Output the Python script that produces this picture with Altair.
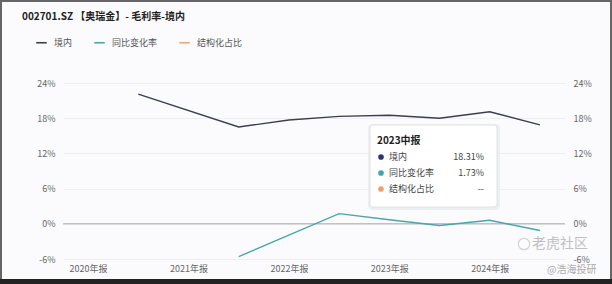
import altair as alt
import pandas as pd

FONT = "Noto Sans CJK SC"

periods = ["2020年报", "2021中报", "2021年报", "2022中报", "2022年报",
           "2023中报", "2023年报", "2024中报", "2024年报", "2025中报"]
domestic = [None, 22.1, None, 16.5, 17.7, 18.31, 18.5, 18.0, 19.1, 16.85]
yoy = [None, None, None, -5.6, None, 1.73, 0.7, -0.3, 0.6, -1.15]
structure = [None] * 10
series_names = ["境内", "同比变化率", "结构化占比"]
series_colors = ["#3b3e4e", "#4aa3ad", "#f2a46a"]
dot_colors = ["#2e3470", "#3fa6b4", "#eda06e"]
y_ticks = [-6, 0, 6, 12, 18, 24]
x_label_periods = ["2020年报", "2021年报", "2022年报", "2023年报", "2024年报"]
hover_period = "2023中报"
title_text = "002701.SZ 【奥瑞金】- 毛利率-境内"

rows = []
for name, vals in zip(series_names, [domestic, yoy, structure]):
    for p, v in zip(periods, vals):
        if v is not None:
            rows.append({"period": p, "series": name, "value": v})
df = pd.DataFrame(rows)

hi = periods.index(hover_period)
hover_vals = []
for vals in [domestic, yoy, structure]:
    v = vals[hi]
    hover_vals.append("--" if v is None else f"{v:.2f}%")

yscale = alt.Scale(domain=[-6, 24], nice=False, zero=False)

x_enc = alt.X("period:N", sort=periods, scale=alt.Scale(domain=periods),
              axis=alt.Axis(values=x_label_periods, title=None, labelAngle=0,
                            domain=False, ticks=False, grid=False, labelFontSize=9,
                            labelColor="#666", labelPadding=5, labelFont=FONT))

color_enc = alt.Color("series:N", scale=alt.Scale(domain=series_names, range=series_colors),
                      legend=alt.Legend(title=None, orient="none", legendX=-28, legendY=-47,
                                        direction="horizontal", symbolType="stroke",
                                        symbolStrokeWidth=1.6, symbolSize=110,
                                        labelFontSize=9, labelColor="#555", labelFont=FONT,
                                        columnPadding=18, labelOffset=6))

left_axis = alt.Axis(values=y_ticks, labelExpr="datum.value + '%'", grid=True,
                     gridColor="#efefef", domain=False, ticks=False, title=None,
                     labelPadding=8, labelFontSize=9, labelColor="#666", labelFont=FONT)
right_axis = alt.Axis(orient="right", values=y_ticks, labelExpr="datum.value + '%'",
                      grid=False, domain=False, ticks=False, title=None,
                      labelPadding=8, labelFontSize=9, labelColor="#666", labelFont=FONT)

base = alt.Chart(df)

zero_rule = alt.Chart(pd.DataFrame({"value": [0]})).mark_rule(
    color="#a8a8a8", strokeWidth=1).encode(y=alt.Y("value:Q", scale=yscale, axis=left_axis))

left_line = base.transform_filter(alt.datum.series == "境内").mark_line(
    strokeWidth=1.4).encode(x=x_enc, y=alt.Y("value:Q", scale=yscale, axis=left_axis),
                            color=color_enc)

right_line = base.transform_filter(alt.datum.series != "境内").mark_line(
    strokeWidth=1.4).encode(x=x_enc, y=alt.Y("value:Q", scale=yscale, axis=right_axis),
                            color=color_enc)

left_group = alt.layer(zero_rule, left_line)


def one(col, val):
    return alt.Chart(pd.DataFrame({col: [val]}))


# hover tooltip box
tip_layers = [
    one("a", 0).mark_rect(fill="#e9ecf0", cornerRadius=4, opacity=0.8).encode(
        x=alt.value(305), x2=alt.value(437), y=alt.value(41), y2=alt.value(127)),
    one("a", 0).mark_rect(fill="white", stroke="#e2e2e2", strokeWidth=1, cornerRadius=3).encode(
        x=alt.value(307), x2=alt.value(434), y=alt.value(42), y2=alt.value(124)),
    one("t", hover_period).mark_text(
        align="left", baseline="middle", fontSize=10, fontWeight="bold", color="#222",
        font=FONT).encode(text="t:N", x=alt.value(314), y=alt.value(58)),
]
row_ys = [74, 90, 106]
for name, val, dc, ry in zip(series_names, hover_vals, dot_colors, row_ys):
    tip_layers.append(one("a", 0).mark_circle(size=32, opacity=1, color=dc).encode(
        x=alt.value(318), y=alt.value(ry)))
    tip_layers.append(one("t", name).mark_text(
        align="left", baseline="middle", fontSize=9, color="#444", font=FONT).encode(
        text="t:N", x=alt.value(326), y=alt.value(ry)))
    tip_layers.append(one("t", val).mark_text(
        align="right", baseline="middle", fontSize=9, color="#444", font=FONT).encode(
        text="t:N", x=alt.value(421), y=alt.value(ry)))

# title as text
title_mark = one("t", title_text).mark_text(
    align="left", baseline="middle", fontSize=10, fontWeight="bold", color="#222",
    font=FONT).encode(text="t:N", x=alt.value(-41), y=alt.value(-66))

# watermark
wm_icon = one("a", 0).mark_point(
    shape="circle", size=130, color="#c4c4c4", strokeWidth=1.2).encode(
    x=alt.value(461), y=alt.value(161))
wm1 = one("t", "老虎社区").mark_text(
    align="left", baseline="middle", fontSize=14, color="#c0c0c0", font=FONT).encode(
    text="t:N", x=alt.value(469), y=alt.value(161))
wm2 = one("t", "@浩海投研").mark_text(
    align="left", baseline="middle", fontSize=10, color="#aaaaaa", font=FONT).encode(
    text="t:N", x=alt.value(484), y=alt.value(187))

# screenshot frame
frame = one("a", 0).mark_rect(fill=None, stroke="#666", strokeWidth=2).encode(
    x=alt.value(-62), x2=alt.value(548), y=alt.value(-82), y2=alt.value(197))
bottom_band = one("a", 0).mark_rect(fill="#222").encode(
    x=alt.value(-63), x2=alt.value(549), y=alt.value(196), y2=alt.value(201))

chart = alt.layer(left_group, right_line, *tip_layers, title_mark, wm_icon, wm1, wm2,
                  frame, bottom_band
                  ).resolve_scale(y="independent").properties(
    width=502, height=176,
    autosize="none",
    padding={"left": 63, "top": 83, "right": 47, "bottom": 25},
    background="#fbfbfd",
).configure_view(stroke=None)

chart.save("out.html", embed_options={"renderer": "svg", "actions": False})
